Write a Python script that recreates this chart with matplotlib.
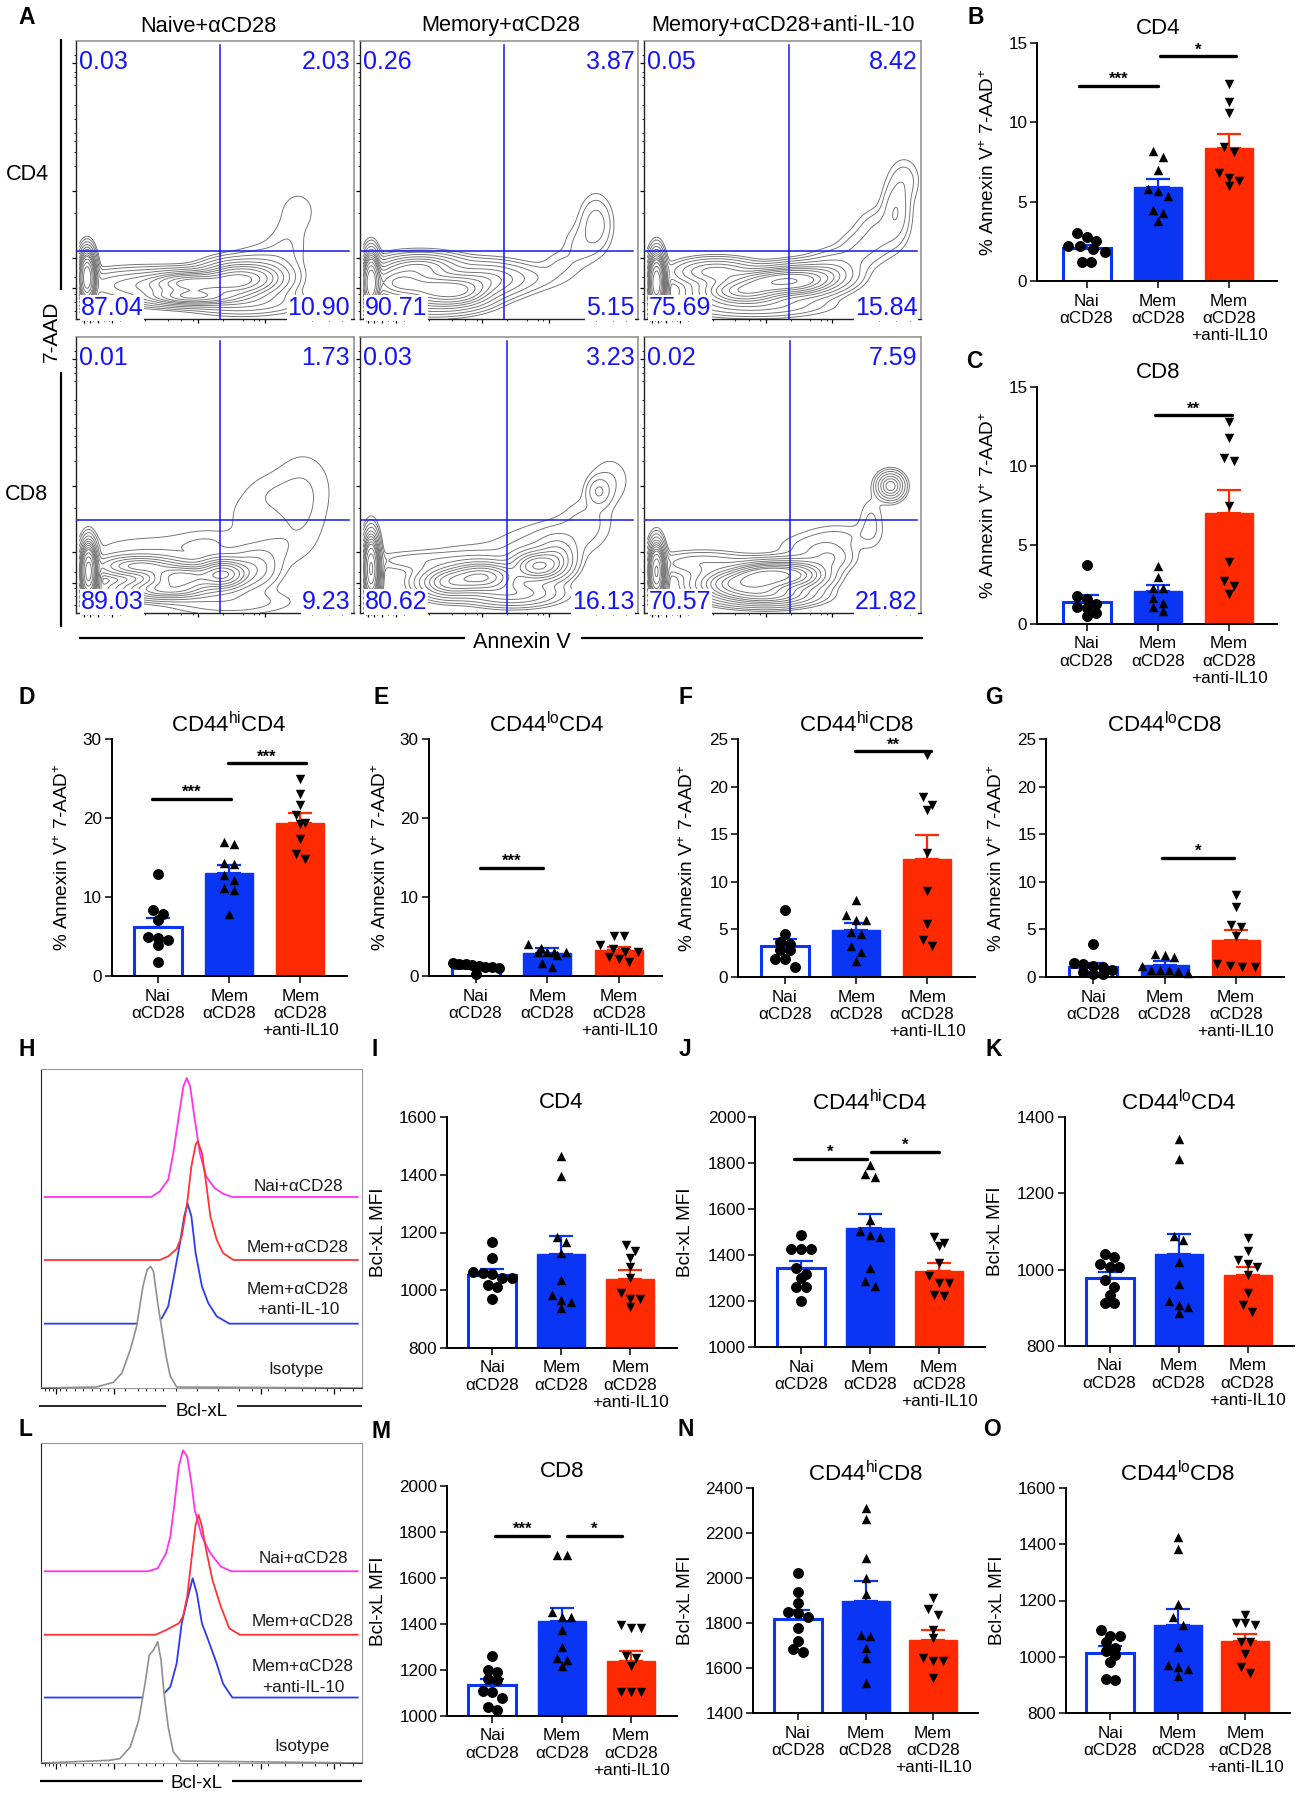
import matplotlib
matplotlib.use("Agg")
import matplotlib.pyplot as plt
import numpy as np
from matplotlib.lines import Line2D

plt.rcParams['font.family'] = ['Liberation Sans', 'DejaVu Sans']
plt.rcParams['mathtext.default'] = 'regular'

W, H = 1298, 1800
BLUE = '#0a35f5'
RED = '#ff2a00'
GATE = '#1616f0'
NUM = '#1414ff'

# ---- flow plots: quadrant percentages (UL, UR, LL, LR)
flow_titles = ['Naive+αCD28', 'Memory+αCD28', 'Memory+αCD28+anti-IL-10']
flow_cd4 = [['0.03', '2.03', '87.04', '10.90'],
            ['0.26', '3.87', '90.71', '5.15'],
            ['0.05', '8.42', '75.69', '15.84']]
flow_cd8 = [['0.01', '1.73', '89.03', '9.23'],
            ['0.03', '3.23', '80.62', '16.13'],
            ['0.02', '7.59', '70.57', '21.82']]

# density lobes: x, y, sx, sy, weight (channel 0-100)
lobes_cd4 = [
    [(4, 15, 1.5, 4.5, 4), (25, 12, 14, 3.2, .3), (42, 13, 8, 2.2, 1), (42, 8, 9, 1.7, .9),
     (58, 14, 7, 3.5, 1), (68, 15, 6, 3.5, .3), (68, 22, 7, 4, .03), (76, 27, 5, 6, .03), (80, 39, 4.5, 5, .03), (60, 6, 12, 2.6, .12)],
    [(4, 13, 1.5, 5, 4), (14, 13, 7, 3.5, 1), (28, 10.5, 7, 3.5, .9), (37, 10, 6, 3, .6), (22, 19, 8, 2.5, .5),
     (45, 14, 8, 3.5, .35), (58, 15, 10, 3, .06), (72, 20, 4, 3, .03), (79, 26, 4, 5, .04), (85, 34, 3.5, 6, .1), (20, 5, 14, 2.5, .08)],
    [(4.5, 13, 1.5, 5, 4), (47, 13.5, 8, 2.5, 1), (36, 10, 8, 2.5, .9), (57, 14, 7, 3, .8), (26, 17, 8, 2.5, .4),
     (67, 16, 6, 3, .25), (70, 21, 6, 3, .06), (78, 25, 5, 4, .06), (85, 31, 5, 5, .08), (91, 39, 3, 6, .12), (94, 50, 3.5, 5, .05), (40, 5, 14, 2.4, .15)]]
lobes_cd8 = [
    [(4.5, 15, 1.5, 5, 3.5), (53, 14, 5, 3, 1), (38, 13, 7, 2.4, .9), (23, 17, 8, 2, .5), (33, 8.5, 9, 2, .6),
     (64, 16, 5, 4, .18), (70, 23, 5, 4, .03), (28, 23, 18, 4, .03), (48, 26, 8, 3.5, .025), (82, 46, 8, 10, .03), (68, 42, 7, 6, .025),
     (80, 30, 7, 10, .025), (60, 34, 4, 5, .02), (55, 4, 14, 3, .06)],
    [(4, 16, 1.5, 6, 3), (44, 13, 7, 3, 1), (64, 17, 5, 3, .8), (32, 11, 6, 3, .6), (71, 20, 4, 4, .25), (55, 7, 9, 2.5, .3),
     (86, 44, 2.5, 3, .12), (90, 48, 5, 6, .035), (82, 33, 6, 6, .04), (72, 27, 8, 5, .035), (60, 24, 9, 5, .03), (40, 20, 11, 4, .03),
     (21, 19, 12, 2.2, .05)],
    [(4.5, 15, 1.5, 5, 3), (41, 12, 6, 3, 1), (47, 13.7, 6, 2.5, 1), (32, 10.5, 7, 3, .8), (56, 13.7, 6, 3, .7), (45, 6.5, 9, 2.2, .6),
     (67, 20, 5, 3, .12), (89, 46, 2.6, 2.6, .55), (82, 33, 3, 6, .04), (21, 18, 10, 2.5, .12), (70, 28, 8, 3, .035), (60, 24, 8, 3, .04)]]

# ---- histograms H and L (channel, count)
h_nai_x = [9, 262, 282, 302, 314, 327, 338, 346, 354, 364, 377, 392, 412, 432, 454, 752]
h_nai_y = [573, 573, 590, 625, 705, 815, 905, 930, 905, 815, 705, 635, 600, 583, 573, 573]
h_mem_x = [9, 282, 302, 322, 334, 347, 357, 367, 372, 382, 392, 402, 417, 432, 457, 752]
h_mem_y = [384, 384, 395, 417, 455, 555, 665, 730, 740, 705, 615, 515, 445, 405, 384, 384]
h_anti_x = [9, 270, 287, 302, 317, 330, 340, 348, 357, 367, 382, 397, 417, 447, 752]
h_anti_y = [193, 193, 210, 245, 345, 435, 515, 553, 515, 405, 305, 255, 215, 193, 193]
h_iso_x = [2, 132, 172, 192, 212, 227, 242, 252, 260, 267, 277, 287, 297, 307, 322, 762]
h_iso_y = [0, 3, 17, 45, 115, 185, 305, 355, 365, 350, 255, 175, 95, 35, 3, 0]

l_nai_x = [9, 254, 277, 297, 307, 317, 327, 337, 347, 357, 365, 382, 402, 427, 452, 752]
l_nai_y = [574, 574, 583, 628, 678, 778, 888, 936, 918, 838, 758, 678, 628, 588, 574, 574]
l_mem_x = [9, 272, 297, 327, 337, 347, 357, 367, 374, 382, 392, 407, 427, 447, 472, 752]
l_mem_y = [384, 384, 398, 418, 438, 498, 608, 713, 743, 708, 638, 548, 468, 403, 384, 384]
l_anti_x = [9, 282, 292, 307, 322, 334, 347, 360, 370, 382, 397, 417, 432, 454, 752]
l_anti_y = [196, 196, 208, 228, 298, 418, 488, 553, 508, 418, 368, 298, 238, 196, 196]
l_iso_x = [2, 162, 187, 212, 232, 247, 257, 267, 277, 285, 292, 302, 314, 332, 762]
l_iso_y = [0, 8, 13, 48, 128, 238, 323, 338, 363, 308, 208, 108, 33, 6, 0]

# ---- bar panels: dots, bar height, top of error bar
groups = ['Nai\nαCD28', 'Mem\nαCD28', 'Mem\nαCD28\n+anti-IL10']

b_nai = [3.0, 2.8, 2.5, 2.2, 2.2, 2.0, 1.8, 1.2, 1.2]
b_mem = [8.2, 7.8, 7.0, 5.8, 5.7, 5.35, 4.45, 4.3, 3.8]
b_anti = [12.4, 11.3, 10.6, 8.45, 8.1, 6.8, 6.5, 6.3, 6.0]
b_bar = [2.05, 5.9, 8.4]
b_err = [2.3, 6.4, 9.25]

c_nai = [3.75, 1.75, 1.6, 1.25, 1.1, 1.0, .7, .5]
c_mem = [3.7, 3.0, 2.25, 2.25, 1.65, 1.35, 1.1, .8]
c_anti = [12.8, 11.8, 10.5, 10.3, 7.5, 3.9, 2.7, 2.4, 1.9]
c_bar = [1.4, 2.1, 7.05]
c_err = [1.85, 2.5, 8.5]

d_nai = [12.9, 8.35, 7.9, 7.1, 5, 4.85, 4.6, 3.9, 1.8]
d_mem = [16.9, 16.7, 14.3, 14.2, 12.8, 12.15, 11.2, 10.9, 7.9]
d_anti = [25, 23.1, 21.6, 20.4, 19.4, 19.2, 17.3, 15.5, 14.8]
d_bar = [6.2, 13.1, 19.4]
d_err = [7.4, 14.1, 20.6]

e_nai = [1.7, 1.5, 1.5, 1.4, 1.3, 1.2, 1.1, 1.0, .3]
e_mem = [4.1, 3.6, 3.1, 3.1, 3.0, 3.0, 2.7, 1.6, 1.1]
e_anti = [5.1, 5.1, 3.9, 3.4, 3, 3, 2.4, 2.2, 1.8]
e_bar = [1.0, 2.95, 3.3]
e_err = [1.15, 3.5, 3.7]

f_nai = [7.0, 4.55, 3.7, 3.5, 2.8, 2.8, 1.9, 1.9, 1.1]
f_mem = [8.1, 6.5, 6.0, 6.0, 4.7, 4.5, 3.3, 2.6, 1.7]
f_anti = [23.3, 18.9, 18.1, 17.5, 13.05, 9.05, 5.55, 3.9, 3.25]
f_bar = [3.3, 4.95, 12.4]
f_err = [3.95, 5.65, 14.9]

g_nai = [3.5, 1.5, 1.4, 1.2, 1, .7, .5, .35, .35]
g_mem = [2.45, 2.3, 2.1, 1.2, .7, .7, .7, .6, .4]
g_anti = [8.6, 7.35, 5.5, 5.3, 4.3, 1.4, 1.2, 1.05, 1.0]
g_bar = [1.05, 1.3, 3.85]
g_err = [1.5, 1.65, 4.9]

i_nai = [1167, 1110, 1064, 1060, 1058, 1044, 1041, 1018, 1012, 968]
i_mem = [1464, 1397, 1186, 1168, 1128, 1035, 983, 966, 960, 937]
i_anti = [1157, 1137, 1110, 1079, 1041, 989, 971, 968, 942]
i_bar = [1052, 1124, 1040]
i_err = [1072, 1188, 1070]

j_nai = [1485, 1425, 1425, 1425, 1342, 1316, 1299, 1260, 1260, 1202]
j_mem = [1792, 1753, 1738, 1553, 1506, 1487, 1480, 1342, 1289, 1267]
j_anti = [1480, 1451, 1437, 1364, 1309, 1280, 1277, 1226, 1222]
j_bar = [1342, 1518, 1332]
j_err = [1375, 1580, 1365]

k_nai = [1042, 1032, 1016, 1008, 1008, 973, 955, 933, 912, 912]
k_mem = [1343, 1291, 1088, 1077, 1021, 962, 919, 907, 903, 887]
k_anti = [1082, 1049, 1025, 1014, 1008, 986, 940, 907, 890]
k_bar = [978, 1040, 986]
k_err = [995, 1094, 1008]

m_nai = [1259, 1198, 1191, 1161, 1158, 1107, 1103, 1078, 1038, 1027]
m_mem = [1700, 1700, 1454, 1430, 1430, 1375, 1302, 1252, 1242, 1216]
m_anti = [1396, 1382, 1382, 1262, 1252, 1216, 1103, 1103, 1103]
m_bar = [1133, 1412, 1240]
m_err = [1160, 1470, 1283]

n_nai = [2023, 1936, 1890, 1850, 1846, 1828, 1780, 1722, 1685, 1669]
n_mem = [2313, 2261, 2087, 1998, 1929, 1747, 1743, 1688, 1644, 1533]
n_anti = [1910, 1862, 1836, 1769, 1732, 1644, 1629, 1629, 1555]
n_bar = [1820, 1897, 1725]
n_err = [1860, 1985, 1770]

o_nai = [1095, 1075, 1074, 1054, 1030, 1022, 1006, 983, 920, 916]
o_mem = [1425, 1384, 1189, 1140, 1113, 1034, 971, 963, 956, 933]
o_anti = [1148, 1119, 1119, 1113, 1054, 1054, 1009, 965, 944]
o_bar = [1015, 1112, 1055]
o_err = [1040, 1170, 1080]

ANNEX = '% Annexin V$^{+}$ 7-AAD$^{+}$'
MFI = 'Bcl-xL MFI'

# name, title, ylabel, yticks, dots, bars, errs, significance (x0, x1, y, stars)
bar_panels = [
    ('B', 'CD4', ANNEX, [0, 5, 10, 15], (b_nai, b_mem, b_anti), b_bar, b_err,
     [(-.11, 1.0, 12.3, '***'), (1.03, 2.1, 14.15, '*')]),
    ('C', 'CD8', ANNEX, [0, 5, 10, 15], (c_nai, c_mem, c_anti), c_bar, c_err, [(.96, 2.04, 13.2, '**')]),
    ('D', 'CD44$^{hi}$CD4', ANNEX, [0, 10, 20, 30], (d_nai, d_mem, d_anti), d_bar, d_err,
     [(-.08, 1.03, 22.4, '***'), (.98, 2.08, 26.9, '***')]),
    ('E', 'CD44$^{lo}$CD4', ANNEX, [0, 10, 20, 30], (e_nai, e_mem, e_anti), e_bar, e_err, [(.06, .94, 13.7, '***')]),
    ('F', 'CD44$^{hi}$CD8', ANNEX, [0, 5, 10, 15, 20, 25], (f_nai, f_mem, f_anti), f_bar, f_err, [(.99, 2.05, 23.7, '**')]),
    ('G', 'CD44$^{lo}$CD8', ANNEX, [0, 5, 10, 15, 20, 25], (g_nai, g_mem, g_anti), g_bar, g_err, [(.97, 1.97, 12.5, '*')]),
    ('I', 'CD4', MFI, [800, 1000, 1200, 1400, 1600], (i_nai, i_mem, i_anti), i_bar, i_err, []),
    ('J', 'CD44$^{hi}$CD4', MFI, [1000, 1200, 1400, 1600, 1800, 2000], (j_nai, j_mem, j_anti), j_bar, j_err,
     [(-.1, .95, 1818, '*'), (1.01, 2.0, 1849, '*')]),
    ('K', 'CD44$^{lo}$CD4', MFI, [800, 1000, 1200, 1400], (k_nai, k_mem, k_anti), k_bar, k_err, []),
    ('M', 'CD8', MFI, [1000, 1200, 1400, 1600, 1800, 2000], (m_nai, m_mem, m_anti), m_bar, m_err,
     [(.04, .82, 1783, '***'), (1.08, 1.87, 1783, '*')]),
    ('N', 'CD44$^{hi}$CD8', MFI, [1400, 1600, 1800, 2000, 2200, 2400], (n_nai, n_mem, n_anti), n_bar, n_err, []),
    ('O', 'CD44$^{lo}$CD8', MFI, [800, 1000, 1200, 1400, 1600], (o_nai, o_mem, o_anti), o_bar, o_err, []),
]

# layout in picture pixels: left, right, top, bottom, first bar, bar spacing, ylabel offset
layout = {
    'B': (1037, 1277, 43, 281, 1086.5, 71.3, 48), 'C': (1037, 1277, 387, 624, 1086.5, 71.3, 48),
    'D': (111.5, 347, 739, 976, 158, 71.2, 49), 'E': (428.5, 662, 739, 976, 475.6, 71.7, 47),
    'F': (738, 975, 739, 977, 785, 71.2, 50), 'G': (1046, 1284, 739, 977, 1093, 71.5, 49),
    'I': (447, 677, 1117, 1348, 492.4, 69, 69), 'J': (755.4, 985, 1117, 1347, 801, 69, 70),
    'K': (1064.7, 1294, 1117, 1346, 1109.6, 69, 70), 'M': (447, 677, 1486, 1716, 492.4, 69.3, 69),
    'N': (753, 978, 1488, 1713, 798, 67.5, 68), 'O': (1066, 1290, 1488, 1713, 1110.4, 67.5, 69),
}

letters = {'A': (27, 18), 'B': (976, 17), 'C': (974, 361), 'D': (27, 697), 'E': (381, 697), 'F': (685, 697),
           'G': (994, 697), 'H': (27, 1050), 'I': (375, 1050), 'J': (685, 1050), 'K': (994, 1050),
           'L': (26, 1429), 'M': (381, 1431), 'N': (686, 1430), 'O': (992.5, 1430)}

fig = plt.figure(figsize=(W / 100, H / 100), dpi=100)


def px_axes(l, r, t, b):
    return fig.add_axes([l / W, 1 - b / H, (r - l) / W, (b - t) / H])


def ftext(x, y, s, **kw):
    kw.setdefault('ha', 'center')
    kw.setdefault('va', 'center')
    fig.text(x / W, 1 - y / H, s, **kw)


def fline(x0, y0, x1, y1, lw=1.5, color='black'):
    fig.add_artist(Line2D([x0 / W, x1 / W], [1 - y0 / H, 1 - y1 / H], lw=lw, color=color,
                          solid_capstyle='butt'))


def swarm(vals, ppu, spacing):
    # rows of near-equal values get spread out sideways, like prism does
    vals = sorted(vals, reverse=True)
    rows = []
    for v in vals:
        if rows and (rows[-1][0] - v) * ppu < 8:
            rows[-1].append(v)
        else:
            rows.append([v])
    xs, ys = [], []
    for row in rows:
        n = len(row)
        step = 12.6 if n % 2 == 0 and n >= 4 else 9.7
        if n > 1:
            step = min(step, 46 / (n - 1))
        for i, v in enumerate(row):
            xs.append((i - (n - 1) / 2) * step / spacing)
            ys.append(v)
    return np.array(xs), np.array(ys)


def draw_bars(p):
    name, title, ylab, yt, dots, bars, errs, sig = p
    l, r, t, b, c0, sp, lab = layout[name]
    ax = px_axes(l, r, t, b)
    ax.set_xlim((l - c0) / sp, (r - c0) / sp)
    ax.set_ylim(yt[0], yt[-1])
    ppu = (b - t) / (yt[-1] - yt[0])
    w = 48 / sp
    ax.bar(0, bars[0] - yt[0], w, bottom=yt[0], facecolor='white', edgecolor=BLUE, linewidth=2.2, zorder=2)
    ax.bar(1, bars[1] - yt[0], w, bottom=yt[0], facecolor=BLUE, edgecolor=BLUE, linewidth=1, zorder=2)
    ax.bar(2, bars[2] - yt[0], w, bottom=yt[0], facecolor=RED, edgecolor=RED, linewidth=1, zorder=2)
    for i, col in enumerate([BLUE, BLUE, RED]):
        ax.errorbar(i, bars[i], yerr=[[0], [errs[i] - bars[i]]], color=col, elinewidth=1.6,
                    capsize=8.5, capthick=1.6, zorder=3)
    for i, (vals, mk, ms) in enumerate(zip(dots, ['o', '^', 'v'], [62, 46, 46])):
        xs, ys = swarm(vals, ppu, sp)
        ax.scatter(xs + i, ys, marker=mk, s=ms, color='black', linewidths=0, zorder=4, clip_on=False)
    for x0, x1, y, stars in sig:
        ax.plot([x0, x1], [y, y], color='black', lw=2.4, solid_capstyle='round', zorder=5, clip_on=False)
        ax.text((x0 + x1) / 2, y + 2 / ppu, stars, ha='center', va='baseline', fontsize=12, fontweight='bold')
    for s in ['top', 'right']:
        ax.spines[s].set_visible(False)
    for s in ['left', 'bottom']:
        ax.spines[s].set_linewidth(1.4)
    ax.set_yticks(yt)
    ax.set_xticks([0, 1, 2])
    ax.set_xticklabels(groups, fontsize=12.3, linespacing=1.18)
    ax.tick_params(axis='y', labelsize=12.3, length=5, width=1.1, pad=2)
    ax.tick_params(axis='x', length=5, width=1.1, pad=4)
    ax.set_ylabel(ylab, fontsize=13.7)
    ax.yaxis.set_label_coords(-(lab - 9) / (r - l), .5)
    ax.text(1, 1 + 14.5 / (b - t), title, transform=ax.get_xaxis_transform(), ha='center', va='center', fontsize=16)


def draw_flow(rect, lobes, nums, vx, hy):
    l, r, t, b = rect
    ax = px_axes(l, r, t, b)
    gx = np.linspace(1.2, 100, 400)
    gy = np.linspace(0, 100, 400)
    X, Y = np.meshgrid(gx, gy)
    Z = np.zeros_like(X)
    for cx, cy, sx, sy, wt in lobes:
        Z += wt * np.exp(-((X - cx) / sx) ** 2 / 2 - ((Y - cy) / sy) ** 2 / 2)
    ax.contour(X, Y, Z, levels=[.018, .035, .07, .13, .22, .33, .45, .6, .8, 1.0, 1.4, 2, 2.8],
               colors='#6e6e6e', linewidths=.65, zorder=2)
    ax.axvline(vx, ymin=0, ymax=.985, color=GATE, lw=1.1, zorder=3)
    ax.axhline(hy, xmin=0, xmax=.985, color=GATE, lw=1.1, zorder=3)
    ax.set_xlim(0, 100)
    ax.set_ylim(0, 100)
    for s in ['top', 'right']:
        ax.spines[s].set_color('#8c8c8c')
        ax.spines[s].set_linewidth(1.1)
    for s in ['left', 'bottom']:
        ax.spines[s].set_color('#222222')
        ax.spines[s].set_linewidth(1.0)
    ax.set_xticks([3, 5, 8, 13, 44, 68])
    ax.set_xticks([2, 4, 6, 10, 12, 16, 25, 33, 38, 42, 53, 60, 64, 66, 85, 91, 96], minor=True)
    ax.set_yticks([11, 22, 46, 92])
    ax.set_yticks([3, 6, 9, 15, 38, 55, 60, 64, 67, 72, 77, 84, 87, 89, 95], minor=True)
    ax.tick_params(which='major', length=3, width=.9, labelleft=False, labelbottom=False)
    ax.tick_params(which='minor', length=1.5, width=.6)
    box = dict(facecolor='white', edgecolor='none', pad=.6)
    ul, ur, ll, lr = nums
    fs = 18
    ax.text(.012, .925, ul, transform=ax.transAxes, color=NUM, fontsize=fs, ha='left', va='center', zorder=6)
    ax.text(.988, .925, ur, transform=ax.transAxes, color=NUM, fontsize=fs, ha='right', va='center', zorder=6)
    ax.text(.018, .04, ll, transform=ax.transAxes, color=NUM, fontsize=fs, ha='left', va='center', zorder=6,
            bbox=box, clip_on=False)
    ax.text(.988, .04, lr, transform=ax.transAxes, color=NUM, fontsize=fs, ha='right', va='center', zorder=6,
            bbox=box, clip_on=False)


def draw_hist(rect, curves, labels, ymax):
    l, r, t, b = rect
    ax = px_axes(l, r, t, b)
    ax.set_xlim(0, 762)
    ax.set_ylim(0, ymax)
    nx, ny, mx, my, ax_, ay, ix, iy = curves
    ax.plot(nx, ny, color='#ff33ee', lw=1.3, zorder=2)
    ax.plot(ax_, ay, color='#2a3cf0', lw=1.3, zorder=2)
    ax.fill_between(ix, 0, iy, color='white', zorder=3, linewidth=0)
    ax.plot(ix, iy, color='#8f8f8f', lw=1.2, zorder=4)
    ax.plot(mx, my, color='#ff3333', lw=1.3, zorder=5)
    for x, y, s in labels:
        ax.text(x, y, s, fontsize=12.3, ha='center', va='center', color='#1a1a1a', linespacing=1.45, zorder=6)
    for s in ['top', 'right']:
        ax.spines[s].set_color('#999999')
    ax.spines['left'].set_color('#222222')
    ax.spines['bottom'].set_color('#333333')
    ax.set_yticks([])
    ax.set_xticks([35, 173, 522, 695])
    ax.set_xticks([10, 20, 28, 45, 60, 80, 100, 120, 140, 160, 200, 230, 250, 270, 290, 320, 370, 420, 470, 500,
                   540, 580, 620, 650, 680, 710, 740], minor=True)
    ax.tick_params(which='major', length=4, width=.9, labelbottom=False)
    ax.tick_params(which='minor', length=2, width=.6)


# panel A
cols = [(76, 353.5), (360, 637.6), (644, 921)]
row1 = (41, 319)
row2 = (337, 613)
vg_top = [51.9, 51.9, 52.3]
vg_bot = [51.9, 53, 52.7]
for i in range(3):
    draw_flow((cols[i][0], cols[i][1], row1[0], row1[1]), lobes_cd4[i], flow_cd4[i], vg_top[i], 24.6)
    draw_flow((cols[i][0], cols[i][1], row2[0], row2[1]), lobes_cd8[i], flow_cd8[i], vg_bot[i], 33.7)
ftext(208, 26, flow_titles[0], fontsize=15.7)
ftext(501, 26, flow_titles[1], fontsize=15.7)
ftext(783, 25, flow_titles[2], fontsize=15.7)
ftext(27, 175, 'CD4', fontsize=15.6)
ftext(27, 494, 'CD8', fontsize=15.6)
ftext(51, 331, '7-AAD', fontsize=15, rotation=90)
ftext(522, 643, 'Annexin V', fontsize=15.5)
fline(61, 39, 61, 290, lw=1.6)
fline(61, 372, 61, 627, lw=1.6)
fline(79, 638, 465, 638, lw=1.6)
fline(581, 638, 923, 638, lw=1.6)

for p in bar_panels:
    draw_bars(p)

# histograms
draw_hist((41, 362, 1069, 1388),
          (h_nai_x, h_nai_y, h_mem_x, h_mem_y, h_anti_x, h_anti_y, h_iso_x, h_iso_y),
          [(610, 605, 'Nai+αCD28'), (610, 423, 'Mem+αCD28'), (610, 265, 'Mem+αCD28\n+anti-IL-10'), (605, 55, 'Isotype')], 957)
draw_hist((41, 362, 1443, 1763),
          (l_nai_x, l_nai_y, l_mem_x, l_mem_y, l_anti_x, l_anti_y, l_iso_x, l_iso_y),
          [(622, 613, 'Nai+αCD28'), (622, 423, 'Mem+αCD28'), (622, 258, 'Mem+αCD28\n+anti-IL-10'), (619, 50, 'Isotype')], 958)
ftext(202, 1411, 'Bcl-xL', fontsize=13.5)
fline(39, 1406, 166, 1406, lw=1.2)
fline(237, 1406, 362, 1406, lw=1.2)
ftext(197, 1783, 'Bcl-xL', fontsize=13.5)
fline(40, 1781, 163, 1781, lw=1.6)
fline(232, 1781, 362, 1781, lw=1.6)

for k, (x, y) in letters.items():
    ftext(x, y, k, fontsize=16.5, fontweight='bold')

fig.savefig('out.png', dpi=100)
